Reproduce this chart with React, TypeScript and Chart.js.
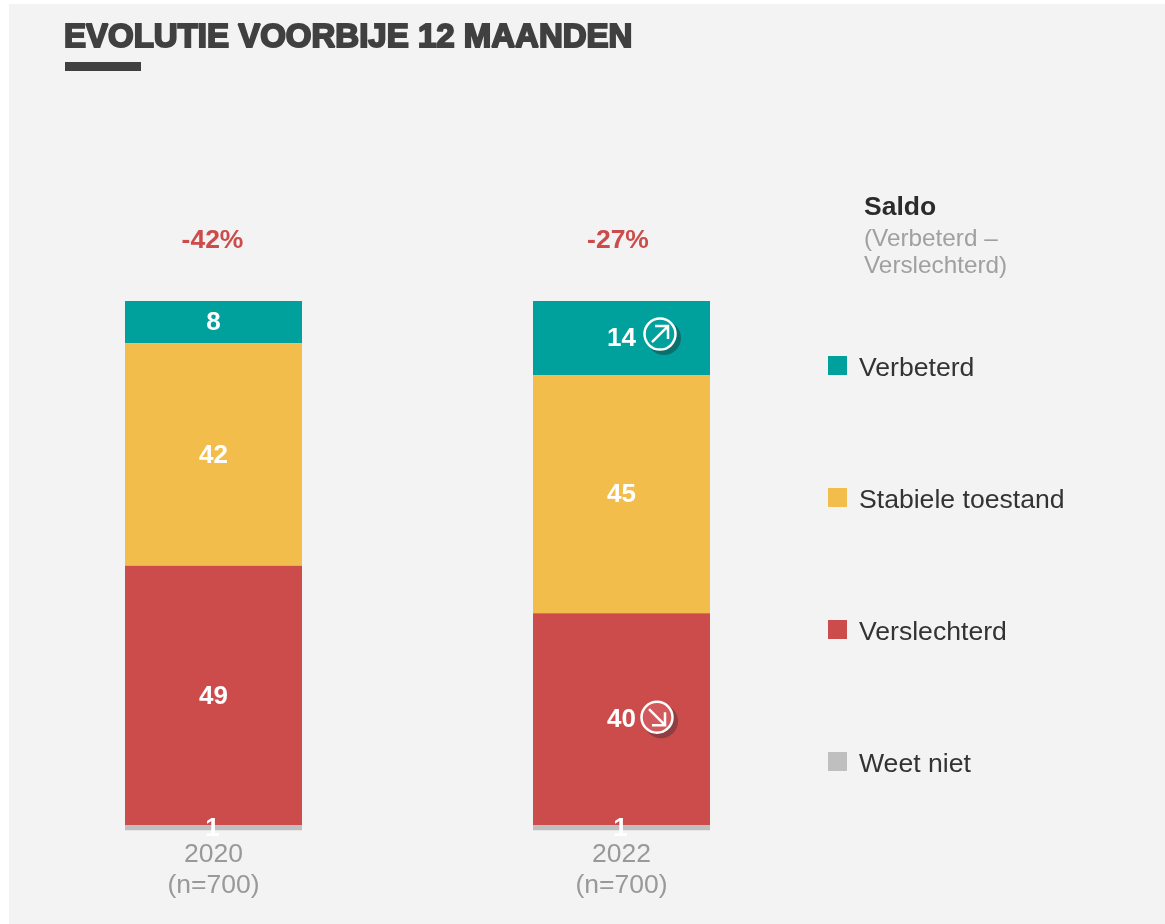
import React, { useEffect, useRef } from "react";
import { Chart, registerables } from "chart.js";

Chart.register(...registerables);

const FONT = '"Liberation Sans", Arial, sans-serif';

const categories = [["2020", "(n=700)"], ["2022", "(n=700)"]];
const seriesNames = ["Weet niet", "Verslechterd", "Stabiele toestand", "Verbeterd"];
const seriesColors = ["#bfbfbf", "#cc4b4b", "#f2bd4b", "#00a09d"];
const weetNiet = [1, 1];
const verslechterd = [49, 40];
const stabiel = [42, 45];
const verbeterd = [8, 14];
const saldo = ["-42%", "-27%"];
const titleText = "EVOLUTIE VOORBIJE 12 MAANDEN";
const saldoTitle = "Saldo";
const saldoNote = ["(Verbeterd \u2013", "Verslechterd)"];

const backgroundPlugin = {
  id: "panel",
  beforeDraw(chart: any) {
    const { ctx, width, height } = chart;
    ctx.save();
    ctx.fillStyle = "#ffffff";
    ctx.fillRect(0, 0, width, height);
    ctx.fillStyle = "#f3f3f3";
    ctx.fillRect(9, 4, width - 9, height - 4);
    ctx.fillStyle = "#404040";
    ctx.fillRect(65, 62, 76, 9);
    ctx.font = `bold 33px ${FONT}`;
    ctx.textBaseline = "alphabetic";
    ctx.textAlign = "left";
    ctx.lineWidth = 2;
    ctx.strokeStyle = "#404040";
    ctx.fillStyle = "#404040";
    ctx.lineJoin = "miter";
    ctx.miterLimit = 1.5;
    ctx.fillText(titleText, 64, 47);
    ctx.strokeText(titleText, 64, 47);
    ctx.restore();
  },
};

function drawArrowBadge(ctx: any, cx: number, cy: number, up: boolean, shadow: string) {
  const r = 15.5;
  ctx.save();
  ctx.fillStyle = shadow;
  ctx.beginPath();
  ctx.arc(cx + 4, cy + 4, r + 1.5, 0, Math.PI * 2);
  ctx.fill();
  ctx.restore();
  ctx.save();
  ctx.fillStyle = up ? "#00a09d" : "#d25a5c";
  ctx.strokeStyle = "#ffffff";
  ctx.lineWidth = 2.5;
  ctx.beginPath();
  ctx.arc(cx, cy, r, 0, Math.PI * 2);
  ctx.fill();
  ctx.stroke();
  const d = 8;
  ctx.lineWidth = 2.5;
  ctx.beginPath();
  if (up) {
    ctx.moveTo(cx - d, cy + d);
    ctx.lineTo(cx + d, cy - d);
    ctx.moveTo(cx - d + 3, cy - d);
    ctx.lineTo(cx + d, cy - d);
    ctx.lineTo(cx + d, cy + d - 3);
  } else {
    ctx.moveTo(cx - d, cy - d);
    ctx.lineTo(cx + d, cy + d);
    ctx.moveTo(cx + d, cy - d + 3);
    ctx.lineTo(cx + d, cy + d);
    ctx.lineTo(cx - d + 3, cy + d);
  }
  ctx.stroke();
  ctx.restore();
}

const labelsPlugin = {
  id: "labels",
  afterDatasetsDraw(chart: any) {
    const { ctx } = chart;
    ctx.save();
    ctx.textAlign = "center";
    ctx.textBaseline = "middle";
    ctx.font = `bold 26px ${FONT}`;
    ctx.fillStyle = "#ffffff";
    chart.data.datasets.forEach((ds: any, i: number) => {
      chart.getDatasetMeta(i).data.forEach((bar: any, j: number) => {
        const top = Math.min(bar.y, bar.base);
        const mid = top + Math.abs(bar.base - bar.y) / 2;
        ctx.fillText(String(ds.data[j]), bar.x - (i === 0 ? 1 : 0), mid + 1);
      });
    });
    // saldo row above the stacks
    ctx.fillStyle = "#cc4b4b";
    ctx.font = `bold 26.5px ${FONT}`;
    chart.getDatasetMeta(3).data.forEach((bar: any, j: number) => {
      ctx.fillText(saldo[j], bar.x - 1 - j * 2.5, bar.y - 60);
    });
    ctx.restore();

    // trend badges, anchored to their segments
    const upBar = chart.getDatasetMeta(3).data[1];
    const downBar = chart.getDatasetMeta(1).data[1];
    const upMid = (upBar.y + upBar.base) / 2;
    const downMid = (downBar.y + downBar.base) / 2;
    drawArrowBadge(ctx, upBar.x + 38.5, upMid - 4, true, "#0b6f70");
    drawArrowBadge(ctx, downBar.x + 35.5, downMid - 2, false, "#8f3f42");

    // legend + saldo heading
    ctx.save();
    ctx.textAlign = "left";
    ctx.textBaseline = "middle";
    ctx.font = `26.6px ${FONT}`;
    const rows = [...seriesNames].reverse();
    const cols = [...seriesColors].reverse();
    rows.forEach((name, k) => {
      const cy = 367 + k * 132;
      ctx.fillStyle = cols[k];
      ctx.fillRect(828, cy - 11, 19, 19);
      ctx.fillStyle = "#333333";
      ctx.fillText(name, 859, cy + 2);
    });
    ctx.font = `bold 26.5px ${FONT}`;
    ctx.fillStyle = "#2b2b2b";
    ctx.fillText(saldoTitle, 864, 208);
    ctx.font = `24.3px ${FONT}`;
    ctx.fillStyle = "#a0a0a0";
    saldoNote.forEach((t, k) => ctx.fillText(t, 864, 239 + k * 27));
    ctx.restore();
  },
};

export default function App() {
  const ref = useRef<HTMLCanvasElement | null>(null);
  useEffect(() => {
    if (!ref.current) return;
    const values = [weetNiet, verslechterd, stabiel, verbeterd];
    const chart = new Chart(ref.current, {
      type: "bar",
      data: {
        labels: categories as any,
        datasets: values.map((data, i) => ({
          label: seriesNames[i],
          data,
          backgroundColor: seriesColors[i],
          borderWidth: 0,
          categoryPercentage: 1,
          barPercentage: 177 / 408,
        })),
      },
      options: {
        responsive: false,
        animation: false,
        layout: { padding: { left: 9.5, right: 339.5, top: 301, bottom: 22 } },
        plugins: {
          legend: { display: false },
          title: { display: false },
          tooltip: { enabled: false },
        },
        scales: {
          x: {
            stacked: true,
            grid: { display: false },
            border: { display: false },
            ticks: {
              color: "#999999",
              padding: 0,
              font: { family: FONT, size: 26.5 },
              maxRotation: 0,
              autoSkip: false,
            },
          },
          y: {
            stacked: true,
            display: false,
            min: 0,
            max: 100,
          },
        },
      },
      plugins: [backgroundPlugin, labelsPlugin],
    });
    return () => chart.destroy();
  }, []);
  return (
    <canvas
      ref={ref}
      width={1165}
      height={924}
      style={{ position: "fixed", left: 0, top: 0, width: 1165, height: 924, display: "block" }}
    />
  );
}
